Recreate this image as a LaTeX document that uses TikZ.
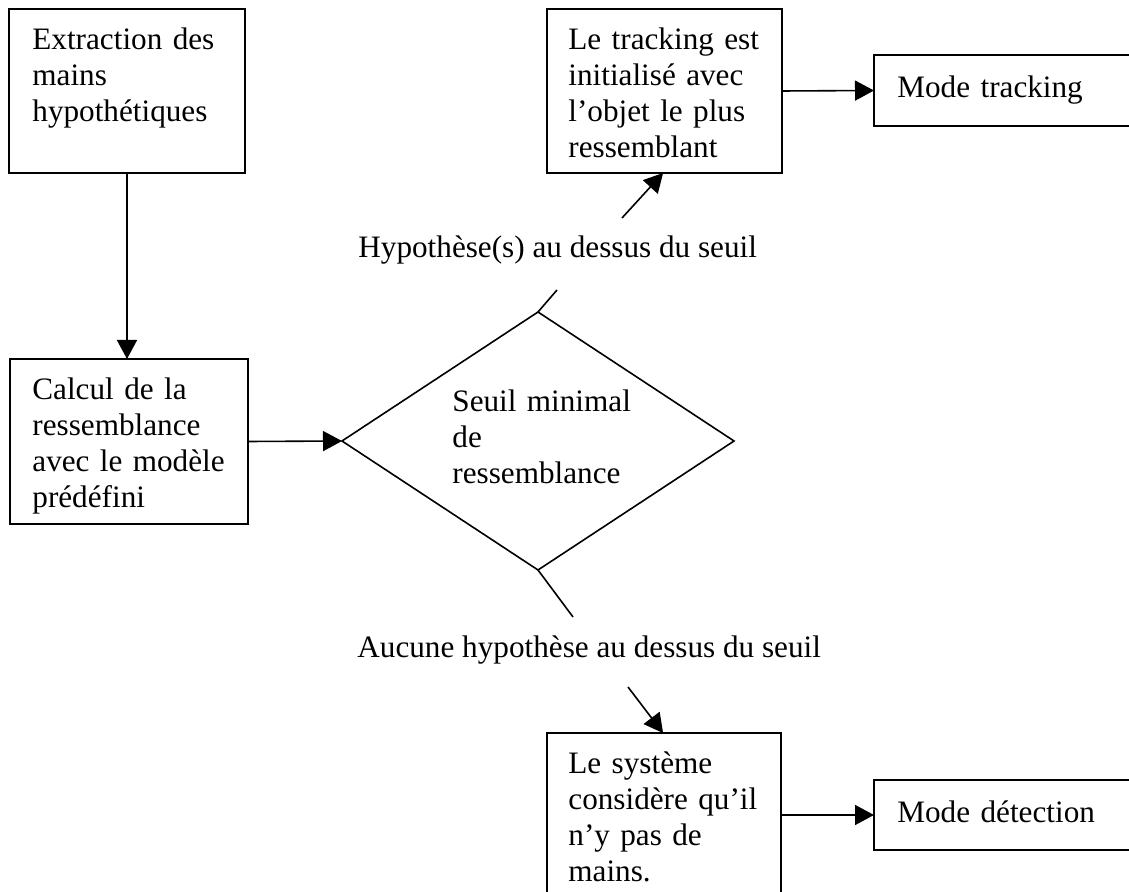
\documentclass[tikz,border=0pt]{standalone}
\usepackage{fontspec}
\setmainfont{Liberation Serif}
\usetikzlibrary{arrows.meta,shapes.geometric,calc}
\begin{document}
\begin{tikzpicture}[x=0.5pt,y=-0.5pt,
  box/.style={draw, line width=0.8pt, inner sep=0pt, outer sep=0pt},
  choice/.style={draw, shape=diamond, line width=0.8pt, inner sep=0pt, outer sep=0pt},
  txt/.style={font=\fontsize{15.6}{18}\selectfont, inner sep=0pt, anchor=base west, align=left, text width=140pt},
  lbl/.style={font=\fontsize{15.6}{18}\selectfont, inner sep=0pt, anchor=base west},
  flow/.style={line width=0.8pt, -{Triangle[length=9.5pt,width=10pt]}},
  plain/.style={line width=0.8pt}
]
\clip (0,0) rectangle (1129,892);
\fill[white] (0,0) rectangle (1129,892);

% process boxes
\node[box, minimum width=118pt, minimum height=82pt] (b1) at (127,91) {};
\node[txt] (t1) at ($(b1.north west)+(23,41)$) {Extraction des\\mains\\hypothétiques};

\node[box, minimum width=119pt, minimum height=82.5pt] (b2) at (129,441.5) {};
\node[txt] (t2) at ($(b2.north west)+(22,41)$) {Calcul de la\\ressemblance\\avec le modèle\\prédéfini};

\node[box, minimum width=117.5pt, minimum height=82pt] (b3) at (664.5,91) {};
\node[txt] (t3) at ($(b3.north west)+(21,41)$) {Le tracking est\\initialisé avec\\l’objet le plus\\ressemblant};

\node[box, minimum width=143pt, minimum height=35.5pt] (b4) at (1017,90.5) {};
\node[txt] (t4) at ($(b4.north west)+(23,43)$) {Mode tracking};

\node[box, minimum width=117pt, minimum height=93.5pt] (b5) at (664,826.5) {};
\node[txt] (t5) at ($(b5.north west)+(21,40)$) {Le système\\considère qu’il\\n’y pas de\\mains.};

\node[box, minimum width=143pt, minimum height=35pt] (b6) at (1017,815) {};
\node[txt] (t6) at ($(b6.north west)+(23,42)$) {Mode détection};

% decision
\node[choice, minimum width=196pt, minimum height=129pt] (dia) at (538,441) {};
\node[txt] (dt) at (452,412) {Seuil minimal\\de\\ressemblance};

% branch labels
\node[lbl] (l1) at (358,258) {Hypothèse(s) au dessus du seuil};
\node[lbl] (l2) at (357,657) {Aucune hypothèse au dessus du seuil};

% connectors
\draw[flow] (b1.south) -- (b1.south |- b2.north);
\draw[flow] (b2.east) -- (dia.west);

\coordinate (c1) at (557,290);
\draw[plain] (dia.north) -- (c1);
\coordinate (c2) at (622,218);
\draw[flow] (c2) -- ($(b3.south west)!0.494!(b3.south east)$);
\draw[flow] (b3.east) -- (b4.west);

\coordinate (c3) at (573,617);
\draw[plain] (dia.south) -- (c3);
\coordinate (c4) at (628,687);
\draw[flow] (c4) -- ($(b5.north west)!0.496!(b5.north east)$);
\draw[flow] (b5.east |- b6.west) -- (b6.west);
\end{tikzpicture}
\end{document}
